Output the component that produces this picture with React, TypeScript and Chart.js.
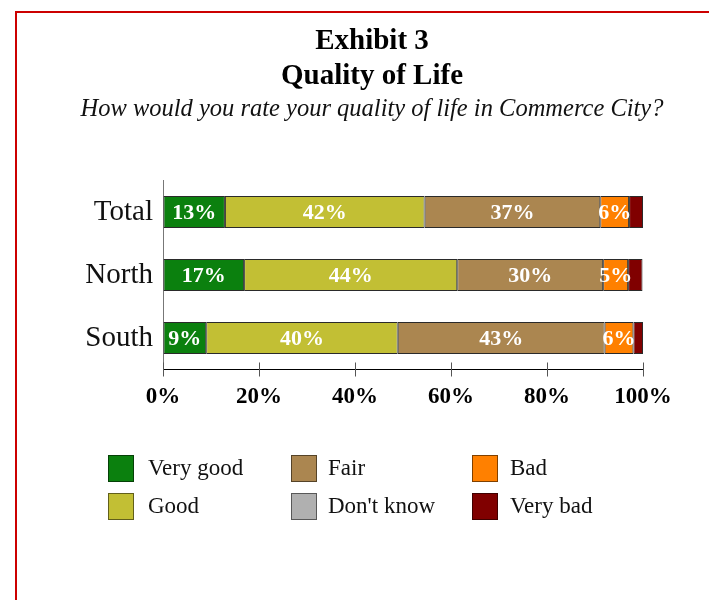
import React, { useEffect, useRef } from 'react';
import { Chart, registerables } from 'chart.js';

Chart.register(...registerables);

const SERIF = '"Liberation Serif", "Times New Roman", serif';

const categories = ['Total', 'North', 'South'];
const seriesNames = ['Very good', 'Good', 'Fair', "Don't know", 'Bad', 'Very bad'];
const veryGood = [12.9, 16.9, 9.0];
const good = [41.6, 44.4, 39.9];
const fair = [36.6, 30.4, 43.1];
const dontKnow = [0, 0, 0];
const bad = [6.0, 5.2, 6.0];
const veryBad = [2.9, 3.0, 2.0];
const xTickValues = [0, 20, 40, 60, 80, 100];
const seriesColors = ['#0b800e', '#c2bf34', '#ab8650', '#b0b0b0', '#ff8000', '#800000'];

const titleLines = ['Exhibit 3', 'Quality of Life'];
const subtitleText = 'How would you rate your quality of life in Commerce City?';

const seriesValues = [veryGood, good, fair, dontKnow, bad, veryBad];

const tickPlugin = {
  id: 'crossTicks',
  afterDraw(chart: any) {
    const xs = chart.scales.x;
    const b = chart.chartArea.bottom;
    const ctx = chart.ctx;
    ctx.save();
    ctx.strokeStyle = '#555';
    ctx.lineWidth = 1;
    xs.ticks.forEach((t: any) => {
      const px = Math.round(xs.getPixelForValue(t.value)) + 0.5;
      ctx.beginPath();
      ctx.moveTo(px, b - 7);
      ctx.lineTo(px, b + 7);
      ctx.stroke();
    });
    ctx.restore();
  },
};

const barLabelPlugin = {
  id: 'barLabels',
  afterDatasetsDraw(chart: any) {
    const ctx = chart.ctx;
    ctx.save();
    ctx.fillStyle = '#ffffff';
    ctx.font = `bold 22px ${SERIF}`;
    ctx.textAlign = 'center';
    ctx.textBaseline = 'middle';
    chart.data.datasets.forEach((ds: any, di: number) => {
      const meta = chart.getDatasetMeta(di);
      meta.data.forEach((el: any, i: number) => {
        const v = ds.data[i];
        if (v < 4) return;
        const { x, base, y } = el.getProps(['x', 'base', 'y'], true);
        ctx.fillText(Math.round(v) + '%', (x + base) / 2, y + 1);
      });
    });
    ctx.restore();
  },
};

const legendPlugin = {
  id: 'gridLegend',
  afterDraw(chart: any) {
    const ctx = chart.ctx;
    const colX = [108, 291, 472];
    const textX = [148, 328, 510];
    const rowY = [455, 493];
    ctx.save();
    chart.data.datasets.forEach((ds: any, i: number) => {
      const col = Math.floor(i / 2);
      const row = i % 2;
      const bx = colX[col];
      const by = rowY[row];
      ctx.fillStyle = ds.backgroundColor;
      ctx.fillRect(bx, by, 26, 27);
      ctx.strokeStyle = 'rgba(0,0,0,0.5)';
      ctx.lineWidth = 1;
      ctx.strokeRect(bx + 0.5, by + 0.5, 25, 26);
      ctx.fillStyle = '#111';
      ctx.font = `23px ${SERIF}`;
      ctx.textAlign = 'left';
      ctx.textBaseline = 'middle';
      ctx.fillText(ds.label, textX[col], by + 14);
    });
    ctx.restore();
  },
};

export default function App() {
  const ref = useRef<HTMLCanvasElement | null>(null);

  useEffect(() => {
    if (!ref.current) return;
    const chart = new Chart(ref.current, {
      type: 'bar',
      data: {
        labels: categories,
        datasets: seriesNames.map((name, i) => ({
          label: name,
          data: seriesValues[i],
          backgroundColor: seriesColors[i],
          borderColor: '#2a2a2a',
          borderWidth: (c: any) => (c.raw > 0 ? 1 : 0),
          borderSkipped: false,
          categoryPercentage: 1,
          barPercentage: 0.508,
        })),
      },
      options: {
        responsive: false,
        animation: false,
        devicePixelRatio: 1,
        indexAxis: 'y',
        layout: { padding: { left: 80, right: 45, top: 0, bottom: 190.5 } },
        plugins: {
          legend: { display: false },
          tooltip: { enabled: false },
          title: {
            display: true,
            text: titleLines,
            color: '#000',
            font: { family: SERIF, size: 29, weight: 'bold', lineHeight: 35 / 29 },
            padding: { top: 24.5, bottom: 0 },
          },
          subtitle: {
            display: true,
            text: subtitleText,
            color: '#111',
            font: { family: SERIF, size: 24.5, style: 'italic', lineHeight: 1.2 },
            padding: { top: 0, bottom: 56.6 },
          },
        },
        scales: {
          x: {
            stacked: true,
            min: 0,
            max: 100,
            afterFit: (s: any) => {
              s.height = 40;
            },
            afterBuildTicks: (s: any) => {
              s.ticks = xTickValues.map((v) => ({ value: v }));
            },
            ticks: {
              color: '#000',
              font: { family: SERIF, size: 23, weight: 'bold' },
              padding: 7,
              maxRotation: 0,
              callback: (v: any) => v + '%',
            },
            grid: {
              display: true,
              drawOnChartArea: false,
              drawTicks: true,
              tickLength: 7,
              color: 'rgba(0,0,0,0)',
            },
            border: { display: true, color: '#000', width: 1 },
          },
          y: {
            stacked: true,
            afterFit: (s: any) => {
              s.width = 83;
            },
            ticks: {
              color: '#111',
              font: { family: SERIF, size: 29 },
              padding: 10,
            },
            grid: { display: false, drawTicks: false },
            border: { display: true, color: '#777', width: 1 },
          },
          yRightSpace: {
            type: 'linear',
            position: 'right',
            display: true,
            afterFit: (s: any) => {
              s.width = 21;
            },
            ticks: { display: false },
            grid: { display: false, drawTicks: false },
            border: { display: false },
          },
        },
      } as any,
      plugins: [tickPlugin, barLabelPlugin, legendPlugin],
    });
    return () => chart.destroy();
  }, []);

  return (
    <div style={{ position: 'absolute', left: 0, top: 0, width: 709, height: 600, background: '#fff', overflow: 'hidden' }}>
      <div
        style={{
          position: 'absolute',
          left: 15,
          top: 11,
          width: 694,
          height: 589,
          boxSizing: 'border-box',
          borderTop: '2px solid #cc0000',
          borderLeft: '2px solid #cc0000',
        }}
      />
      <canvas ref={ref} width={709} height={600} style={{ position: 'absolute', left: 0, top: 0, display: 'block' }} />
    </div>
  );
}
